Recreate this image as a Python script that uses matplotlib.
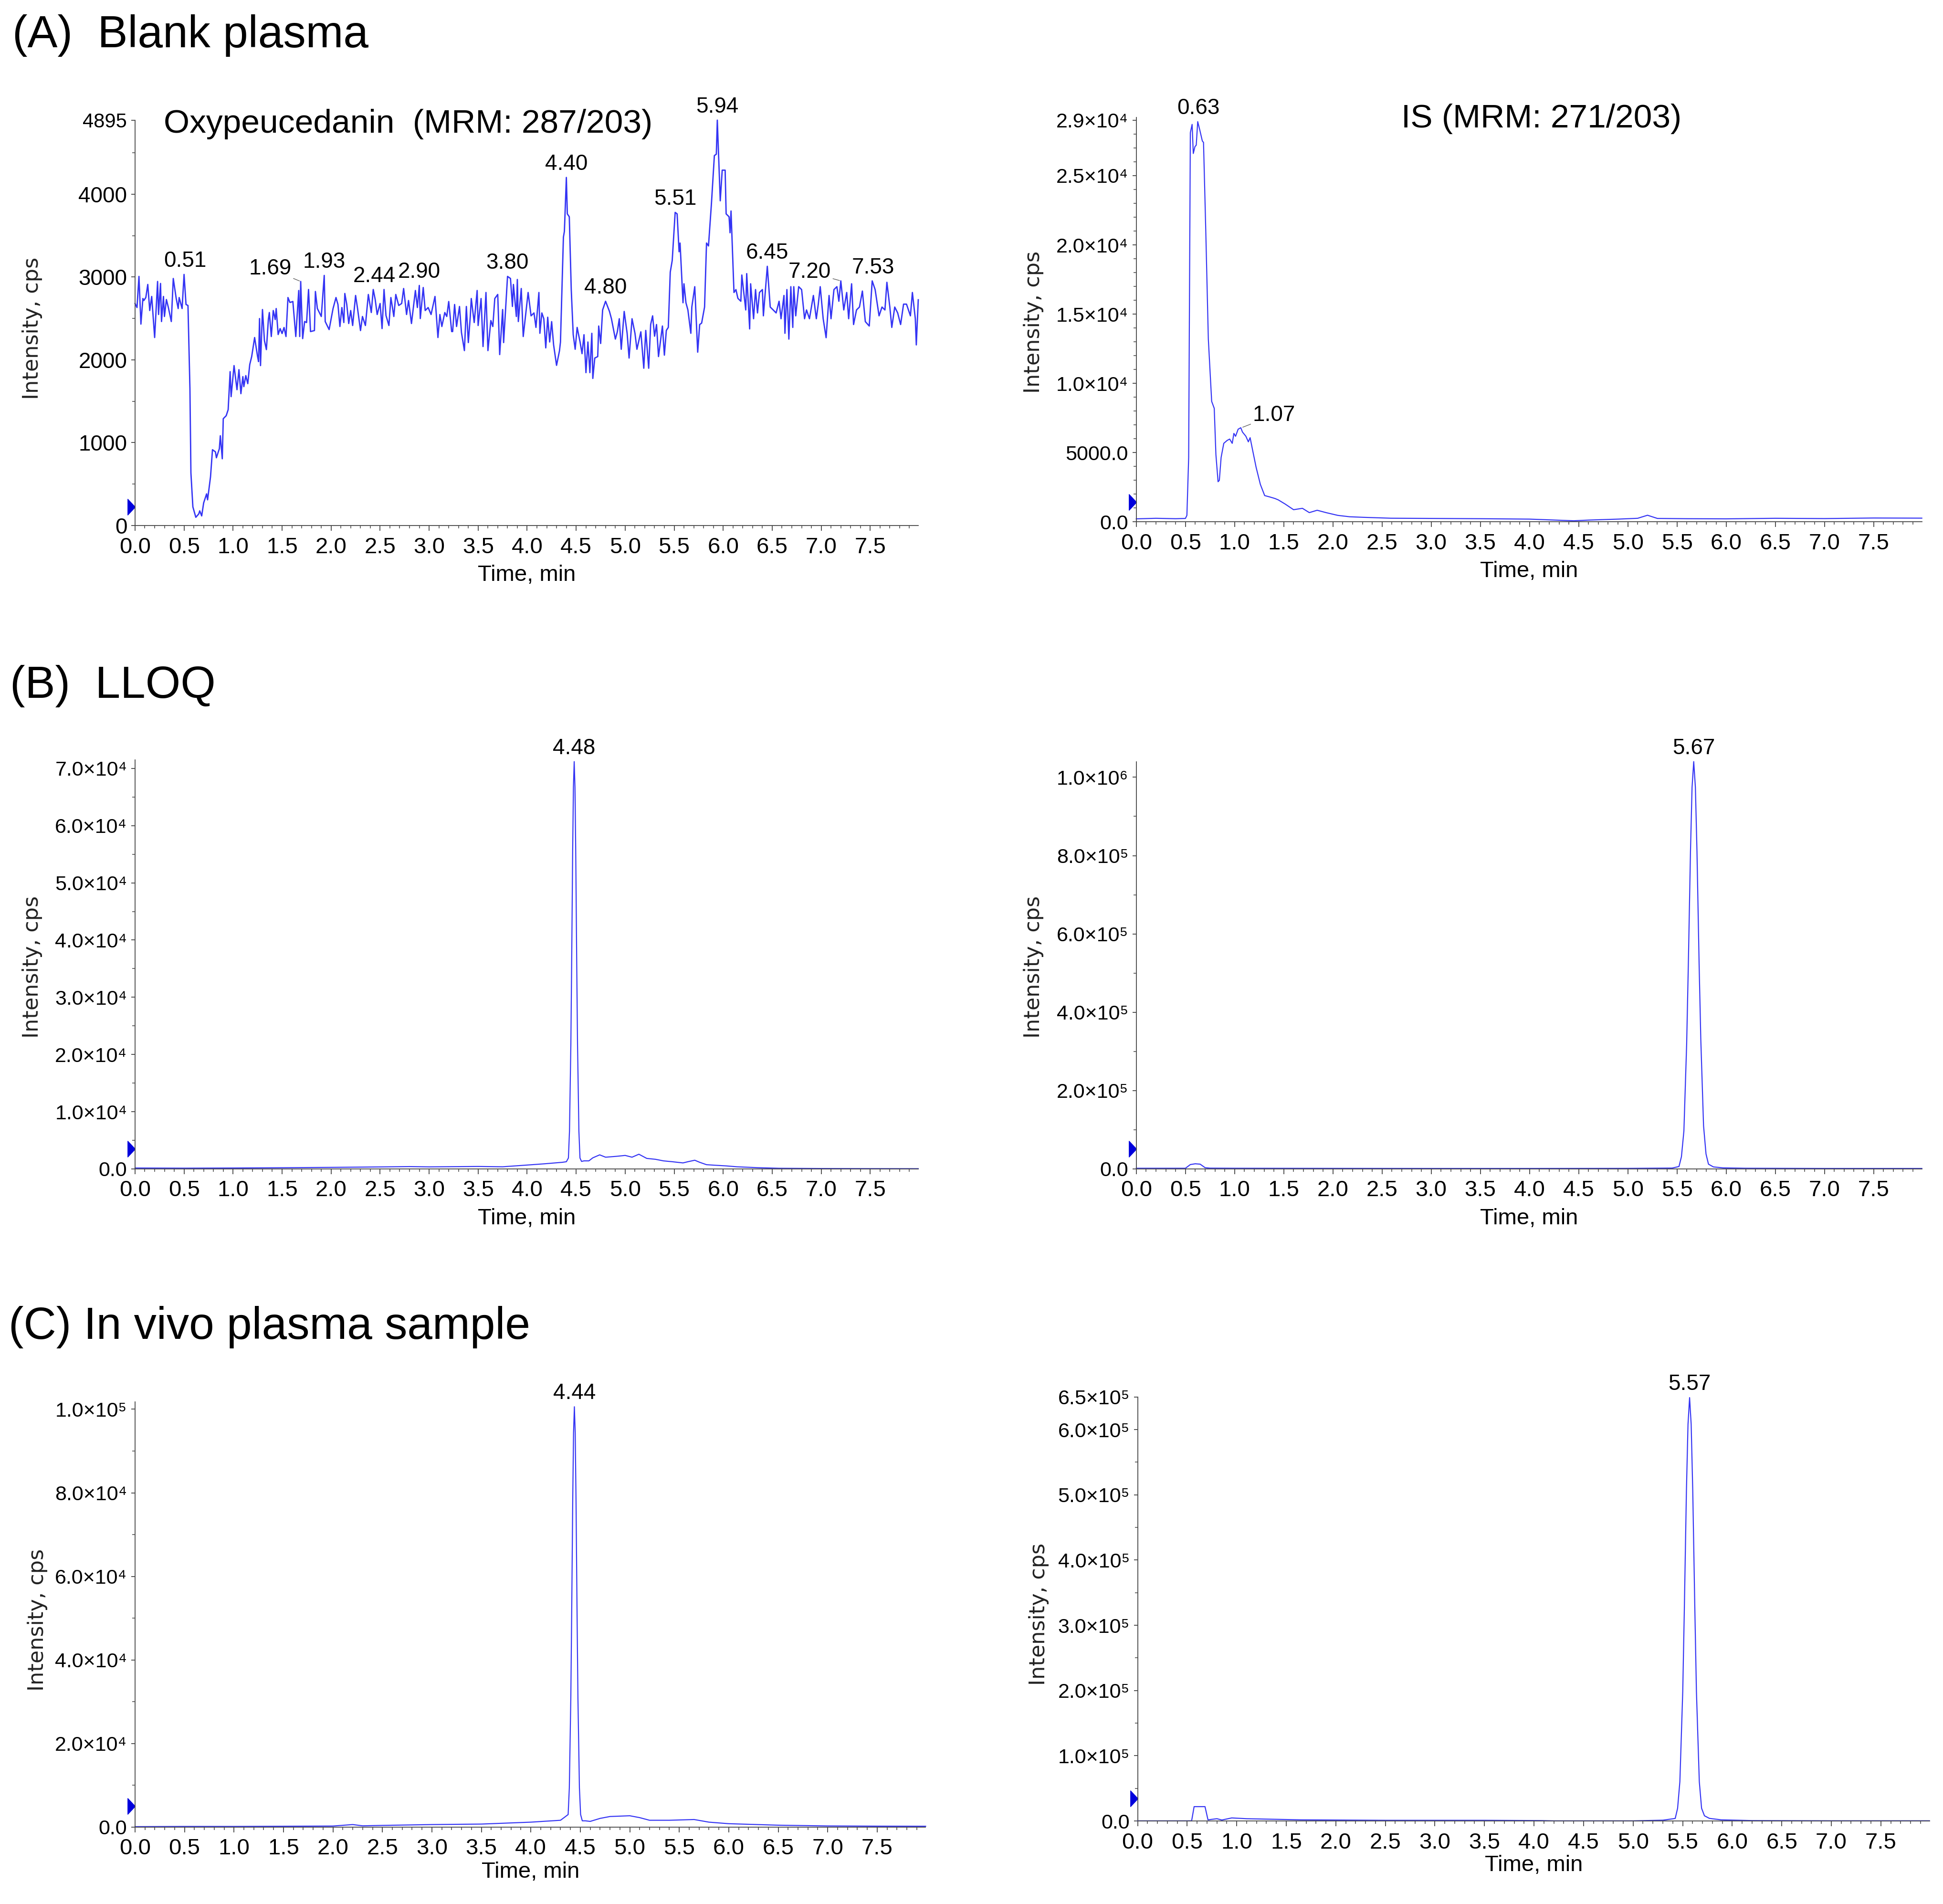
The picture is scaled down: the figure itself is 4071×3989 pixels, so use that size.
import numpy as np
import matplotlib.pyplot as plt
import matplotlib.transforms as mtransforms
from matplotlib.path import Path
from matplotlib.ticker import MultipleLocator

# ---- (A) blank plasma, analyte channel 287/203 ----
blank_ana_t = [0.00, 0.02, 0.04, 0.06, 0.08, 0.09, 0.11, 0.13, 0.15, 0.17, 0.20, 0.23, 0.24, 0.26, 0.27,
               0.29, 0.30, 0.32, 0.34, 0.37, 0.39, 0.42, 0.44, 0.45, 0.48, 0.50, 0.52, 0.54, 0.56, 0.57,
               0.59, 0.62, 0.65, 0.66, 0.68, 0.70, 0.73, 0.74, 0.77, 0.79, 0.82, 0.83, 0.86, 0.87, 0.89,
               0.90, 0.93, 0.95, 0.97, 0.98, 1.01, 1.04, 1.06, 1.08, 1.10, 1.11, 1.13, 1.15, 1.17, 1.19,
               1.22, 1.25, 1.26, 1.27, 1.28, 1.30, 1.32, 1.34, 1.36, 1.37, 1.39, 1.41, 1.43, 1.44, 1.46,
               1.48, 1.50, 1.52, 1.54, 1.56, 1.58, 1.61, 1.64, 1.67, 1.68, 1.69, 1.71, 1.73, 1.75, 1.77,
               1.79, 1.83, 1.84, 1.86, 1.90, 1.93, 1.94, 1.98,
               2.02, 2.05, 2.07, 2.09, 2.11, 2.13, 2.14, 2.16, 2.18, 2.20, 2.22, 2.25, 2.27, 2.30, 2.32,
               2.35, 2.38, 2.41, 2.43, 2.45, 2.47, 2.50, 2.52, 2.54, 2.56, 2.59, 2.61, 2.64, 2.66, 2.69,
               2.72, 2.74, 2.77, 2.79, 2.82, 2.86, 2.88, 2.90, 2.91, 2.94, 2.96, 2.99, 3.02, 3.06, 3.09,
               3.11, 3.13, 3.16, 3.18, 3.20, 3.23, 3.24, 3.26, 3.28, 3.31, 3.33, 3.36, 3.38, 3.40, 3.42,
               3.43, 3.46, 3.49, 3.50, 3.53, 3.55, 3.58, 3.60, 3.63, 3.65, 3.67, 3.70, 3.72, 3.75, 3.76,
               3.80, 3.83, 3.85, 3.86, 3.89, 3.90, 3.91, 3.94, 3.96,
               4.01, 4.04, 4.07, 4.09, 4.12, 4.13, 4.15, 4.17, 4.19, 4.21, 4.23, 4.25, 4.27, 4.30, 4.33,
               4.34, 4.37, 4.38, 4.40, 4.41, 4.43, 4.45, 4.47, 4.49, 4.51, 4.54, 4.56, 4.58, 4.60, 4.62,
               4.64, 4.66, 4.67, 4.69, 4.72, 4.73, 4.75, 4.77, 4.80, 4.84, 4.86, 4.90, 4.92, 4.94, 4.96,
               4.99, 5.02, 5.04, 5.07, 5.10, 5.12, 5.16, 5.19, 5.21, 5.24, 5.26, 5.28, 5.30, 5.32, 5.34,
               5.38, 5.40, 5.42, 5.44, 5.46, 5.48, 5.51, 5.53, 5.55, 5.56, 5.59, 5.60, 5.62, 5.64, 5.67,
               5.68, 5.71, 5.74, 5.76, 5.78, 5.81, 5.83, 5.85, 5.88, 5.91, 5.93, 5.94, 5.97, 5.99, 6.02,
               6.03, 6.06, 6.07, 6.08, 6.11,
               6.13, 6.15, 6.18, 6.19, 6.23, 6.24, 6.27, 6.28, 6.31, 6.33, 6.35, 6.37, 6.40, 6.41, 6.45,
               6.48, 6.51, 6.54, 6.57, 6.59, 6.62, 6.63, 6.65, 6.67, 6.69, 6.71, 6.72, 6.74, 6.77, 6.80,
               6.83, 6.85, 6.88, 6.92, 6.95, 6.97, 6.99, 7.02, 7.05, 7.08, 7.10, 7.13, 7.16, 7.18, 7.20,
               7.23, 7.26, 7.28, 7.31, 7.33, 7.36, 7.39, 7.42, 7.45, 7.49, 7.52, 7.55, 7.59, 7.62, 7.65,
               7.67, 7.70, 7.72, 7.75, 7.78, 7.81, 7.84, 7.87, 7.91, 7.93, 7.96, 7.97, 7.99]
blank_ana_i = [2681, 2632, 3008, 2432, 2741, 2717, 2753, 2911, 2596, 2766, 2270, 2947, 2548, 2923, 2463,
               2766, 2524, 2729, 2632, 2463, 2983, 2741, 2620, 2753, 2620, 3032, 2669, 2657, 1653, 636,
               225, 99, 140, 177, 116, 273, 382, 310, 588, 915, 890, 818, 927, 1084, 806,
               1290, 1326, 1399, 1858, 1556, 1931, 1640, 1882, 1592, 1798, 1677, 1810, 1713, 1943, 2040,
               2270, 2040, 1979, 2499, 1931, 2608, 2233, 2124, 2487, 2572, 2282, 2596, 2487, 2620, 2306,
               2378, 2318, 2391, 2282, 2753, 2693, 2705, 2282, 2838, 2282, 2947, 2257, 2463, 2451, 2850,
               2342, 2354, 2826, 2620, 2524, 3020, 2463, 2366,
               2620, 2753, 2669, 2403, 2632, 2451, 2802, 2669, 2439, 2596, 2415, 2778, 2620, 2354, 2524,
               2415, 2790, 2572, 2850, 2729, 2548, 2681, 2378, 2850, 2536, 2415, 2753, 2524, 2790, 2657,
               2681, 2862, 2548, 2717, 2439, 2838, 2632, 2899, 2499, 2874, 2596, 2632, 2548, 2766, 2270,
               2548, 2403, 2572, 2524, 2705, 2342, 2342, 2669, 2403, 2645, 2330, 2112, 2645, 2209, 2524,
               2741, 2451, 2838, 2415, 2741, 2161, 2814, 2112, 2475, 2403, 2741, 2790, 2064, 2608, 2209,
               3008, 2983, 2645, 2911, 2524, 2971, 2463, 2862, 2282,
               2814, 2532, 2567, 2392, 2814, 2321, 2567, 2497, 2145, 2515, 2216, 2462, 2181, 1934, 2110,
               2216, 3482, 3552, 4203, 3763, 3728, 2849, 2304, 2128, 2392, 2216, 2075, 2304, 1846, 2216,
               1846, 2321, 1776, 2022, 2040, 2409, 2198, 2603, 2708, 2585, 2497, 2251, 2339, 2497, 2128,
               2585, 2321, 2022, 2497, 2321, 2128, 2339, 1899, 2356, 1899, 2427, 2532, 2286, 2427, 2040,
               2409, 2057, 2356, 2392, 3060, 3200, 3781, 3763, 3306, 3411, 2690, 2919, 2690, 2603, 2321,
               2638, 2884, 2093, 2427, 2444, 2638, 3411, 3376, 3886, 4467, 4484, 4895, 3921, 4291, 4291,
               3763, 3728, 3535, 3798, 2814,
               2849, 2743, 2708, 3025, 2603, 3042, 2374, 2919, 2497, 2849, 2567, 2814, 2849, 2532, 3130,
               2638, 2603, 2567, 2708, 2497, 2778, 2321, 2849, 2251, 2884, 2392, 2884, 2532, 2884, 2849,
               2497, 2603, 2497, 2778, 2497, 2673, 2884, 2497, 2268, 2778, 2497, 2849, 2884, 2708, 2954,
               2603, 2814, 2497, 2919, 2427, 2603, 2638, 2831, 2462, 2409, 2954, 2849, 2532, 2638, 2603,
               2937, 2638, 2392, 2638, 2567, 2427, 2673, 2673, 2532, 2814, 2497, 2181, 2726]
blank_ana_peaks = ['0.51', '1.69', '1.93', '2.44', '2.90', '3.80', '4.40', '4.80',
                   '5.51', '5.94', '6.45', '7.20', '7.53']

# ---- (A) blank plasma, IS channel 271/203 ----
blank_is_t = [0.0, 0.2, 0.4, 0.5, 0.515, 0.533, 0.55, 0.568, 0.58, 0.597, 0.61, 0.625, 0.646, 0.672,
              0.684, 0.707, 0.733, 0.767, 0.793, 0.81, 0.832, 0.845, 0.863, 0.89, 0.924, 0.95, 0.976,
              0.993, 1.01, 1.036, 1.063, 1.08, 1.115, 1.14, 1.158, 1.184, 1.219, 1.262, 1.306, 1.358,
              1.41, 1.444, 1.514, 1.6, 1.69, 1.76, 1.84, 1.93, 2.05, 2.17, 2.31, 2.59, 3.0, 3.5, 4.0,
              4.3, 4.45, 4.6, 4.9, 5.1, 5.2, 5.3, 5.6, 6.0, 6.5, 7.0, 7.5, 7.99]
blank_is_i = [220, 260, 230, 250, 470, 4650, 28100, 28700, 26600, 27100, 27200, 28900, 28300, 27500,
              27400, 21000, 13200, 8700, 8200, 4860, 2900, 3000, 4650, 5670, 5880, 5980, 5670,
              6390, 6180, 6690, 6800, 6490, 6180, 5780, 6080, 5160, 3940, 2710, 1900, 1800,
              1690, 1590, 1290, 880, 980, 670, 840, 670, 470, 370, 330, 265, 250, 230, 200,
              120, 80, 130, 200, 260, 480, 250, 230, 220, 260, 240, 280, 270]
blank_is_peaks = ['0.63', '1.07']

# ---- (B) LLOQ ----
lloq_ana_t = [0.0, 0.5, 1.0, 1.5, 2.0, 2.5, 2.8, 3.0, 3.5, 3.75, 3.97, 4.18, 4.36, 4.40, 4.421,
              4.432, 4.446, 4.454, 4.4645, 4.472, 4.48, 4.488, 4.4955, 4.506, 4.514, 4.528, 4.539,
              4.555, 4.58, 4.63, 4.67, 4.74, 4.80, 4.91, 5.0, 5.07, 5.14, 5.22, 5.31, 5.39, 5.48,
              5.59, 5.64, 5.71, 5.76, 5.83, 5.92, 6.03, 6.14, 6.35, 6.57, 7.0, 7.5, 7.99]
lloq_ana_i = [150, 120, 150, 200, 260, 340, 400, 350, 420, 365, 630, 890, 1150, 1250, 1900,
              6600, 21800, 35600, 55700, 66700, 71200, 66700, 55700, 35600, 21800, 6600, 1900,
              1300, 1400, 1400, 1930, 2450, 2040, 2190, 2350, 2040, 2560, 1830, 1670, 1400, 1250,
              1040, 1250, 1510, 1150, 730, 630, 520, 365, 210, 100, 60, 40, 30]
lloq_ana_peaks = ['4.48']

lloq_is_t = [0.0, 0.5, 0.55, 0.6, 0.65, 0.7, 0.75, 1.0, 2.0, 3.0, 4.0, 5.0, 5.45, 5.52, 5.545,
             5.57, 5.598, 5.615, 5.637, 5.653, 5.67, 5.687, 5.703, 5.725, 5.742, 5.77, 5.795,
             5.82, 5.87, 5.97, 6.2, 7.0, 7.99]
lloq_is_i = [1500, 1500, 11000, 13000, 12000, 3000, 1800, 1500, 1200, 1000, 1000, 1200, 2000, 6000,
             31000, 96700, 318000, 520000, 811000, 974000, 1040000, 974000, 811000, 520000, 330000,
             110000, 38000, 12000, 5000, 2500, 1500, 1000, 1000]
lloq_is_peaks = ['5.67']

# ---- (C) in vivo plasma sample ----
vivo_ana_t = [0.0, 0.5, 1.0, 1.5, 2.0, 2.2, 2.3, 2.5, 3.0, 3.5, 4.0, 4.3, 4.377, 4.389, 4.404,
              4.4125, 4.4235, 4.4315, 4.44, 4.4485, 4.4565, 4.4675, 4.476, 4.491, 4.503, 4.52, 4.55,
              4.6, 4.7, 4.8, 5.0, 5.1, 5.2, 5.4, 5.65, 5.8, 6.0, 6.5, 7.0, 7.5, 7.99]
vivo_ana_i = [100, 150, 150, 200, 250, 600, 300, 400, 600, 720, 1180, 1630, 3000, 9400, 30800,
              50300, 78500, 94300, 100600, 94300, 78500, 50300, 30800, 9400, 3000, 1500, 1500,
              1360, 2080, 2530, 2710, 2260, 1630, 1630, 1810, 1180, 810, 450, 270, 220, 200]
vivo_ana_peaks = ['4.44']

vivo_is_t = [0.0, 0.5, 0.545, 0.57, 0.68, 0.71, 0.8, 0.85, 0.95, 1.1, 1.65, 2.5, 3.5, 4.07, 4.2,
             5.0, 5.3, 5.425, 5.449, 5.472, 5.501, 5.517, 5.538, 5.554, 5.57, 5.586, 5.602, 5.623,
             5.639, 5.668, 5.691, 5.72, 5.77, 5.89, 6.2, 7.0, 7.99]
vivo_is_i = [200, 200, 300, 22000, 22000, 1750, 3500, 1500, 4700, 3500, 1750, 1000, 1000, 600, 200,
             200, 1200, 3900, 19500, 60400, 198600, 324500, 506000, 608000, 649000, 608000, 506000,
             324500, 198600, 60400, 19500, 8000, 4000, 1750, 600, 300, 300]
vivo_is_peaks = ['5.57']

x_ticks = [0.0, 0.5, 1.0, 1.5, 2.0, 2.5, 3.0, 3.5, 4.0, 4.5, 5.0, 5.5, 6.0, 6.5, 7.0, 7.5]
x_tick_labels = ['%.1f' % x for x in x_ticks]

yt_blank_ana = [0, 1000, 2000, 3000, 4000, 4895]
yl_blank_ana = ['0', '1000', '2000', '3000', '4000', '4895']
yt_blank_is = [0, 5000, 10000, 15000, 20000, 25000, 29000]
yl_blank_is = ['0.0', '5000.0', '1.0×10⁴', '1.5×10⁴', '2.0×10⁴', '2.5×10⁴', '2.9×10⁴']
yt_lloq_ana = [0, 1e4, 2e4, 3e4, 4e4, 5e4, 6e4, 7e4]
yl_lloq_ana = ['0.0', '1.0×10⁴', '2.0×10⁴', '3.0×10⁴', '4.0×10⁴', '5.0×10⁴', '6.0×10⁴', '7.0×10⁴']
yt_lloq_is = [0, 2e5, 4e5, 6e5, 8e5, 1e6]
yl_lloq_is = ['0.0', '2.0×10⁵', '4.0×10⁵', '6.0×10⁵', '8.0×10⁵', '1.0×10⁶']
yt_vivo_ana = [0, 2e4, 4e4, 6e4, 8e4, 1e5]
yl_vivo_ana = ['0.0', '2.0×10⁴', '4.0×10⁴', '6.0×10⁴', '8.0×10⁴', '1.0×10⁵']
yt_vivo_is = [0, 1e5, 2e5, 3e5, 4e5, 5e5, 6e5, 6.5e5]
yl_vivo_is = ['0.0', '1.0×10⁵', '2.0×10⁵', '3.0×10⁵', '4.0×10⁵', '5.0×10⁵', '6.0×10⁵', '6.5×10⁵']

LINE = '#3434f4'
AXC = '#454545'
REG = ['Liberation Sans', 'DejaVu Sans']

fig = plt.figure(figsize=(40.71, 39.89), dpi=100)

# right-pointing baseline marker, tip at the origin
tri = Path([(-0.94, -1.0), (0.0, 0.0), (-0.94, 1.0), (-0.94, -1.0)],
           [Path.MOVETO, Path.LINETO, Path.LINETO, Path.CLOSEPOLY])


def panel(rect, t, v, ymax, yt, yl, yminor, mark_y, peaks, lw=1.6, leaders=None):
    leaders = leaders or {}
    ax = fig.add_axes(rect)
    ax.plot(t, v, color=LINE, lw=lw, clip_on=False)
    ax.set_xlim(0, 7.99)
    ax.set_ylim(0, ymax)
    for s in ['top', 'right']:
        ax.spines[s].set_visible(False)
    for s in ['left', 'bottom']:
        ax.spines[s].set_color(AXC)
        ax.spines[s].set_linewidth(1.3)
    ax.set_xticks(x_ticks)
    ax.set_xticklabels(x_tick_labels, family=REG, fontsize=34)
    ax.xaxis.set_minor_locator(MultipleLocator(0.1))
    ax.set_yticks(yt)
    ax.set_yticklabels(yl, family=REG, fontsize=31)
    ax.yaxis.set_minor_locator(MultipleLocator(yminor))
    ax.tick_params(axis='x', which='major', length=8, width=1.3, color=AXC, pad=9)
    ax.tick_params(axis='y', which='major', length=6, width=1.3, color=AXC, pad=6)
    ax.tick_params(which='minor', length=4, width=1.1, color=AXC)
    trans = mtransforms.blended_transform_factory(ax.transAxes, ax.transData)
    ax.plot([0], [mark_y], marker=tri, ms=24, color='#0000dc', transform=trans, clip_on=False)
    ta = np.array(t)
    va = np.array(v)
    for lab in peaks:
        tp = float(lab)
        near = np.abs(ta - tp) <= 0.02
        yp = va[near].max()
        if lab in leaders:
            dx, dy = leaders[lab]
            ax.annotate(lab, xy=(tp, yp), xytext=(dx, dy), textcoords='offset points',
                        ha='center', va='center', fontsize=33, family=REG,
                        annotation_clip=False,
                        arrowprops=dict(arrowstyle='-', color='#606060', lw=1.0,
                                        shrinkA=1, shrinkB=2))
        else:
            ax.annotate(lab, xy=(tp, yp), xytext=(0, 20), textcoords='offset points',
                        ha='center', va='center', fontsize=33, family=REG,
                        annotation_clip=False)
    return ax


ax1 = panel([0.0695, 0.7240, 0.4031, 0.2129], blank_ana_t, blank_ana_i, 4895,
            yt_blank_ana, yl_blank_ana, 500, 225, blank_ana_peaks, lw=2.0,
            leaders={'1.69': (-46, 19), '7.20': (-47, 13)})
for lab in ax1.get_yticklabels():
    lab.set_fontsize(33)
ax1.get_yticklabels()[-1].set_fontsize(30)
ax2 = panel([0.5848, 0.7259, 0.4043, 0.2124], blank_is_t, blank_is_i, 29200,
            yt_blank_is, yl_blank_is, 1000, 1430, blank_is_peaks,
            leaders={'1.07': (49, 19)})
ax3 = panel([0.0695, 0.3861, 0.4031, 0.2148], lloq_ana_t, lloq_ana_i, 71500,
            yt_lloq_ana, yl_lloq_ana, 5000, 3470, lloq_ana_peaks)
ax4 = panel([0.5848, 0.3861, 0.4043, 0.2139], lloq_is_t, lloq_is_i, 1.04e6,
            yt_lloq_is, yl_lloq_is, 1e5, 50600, lloq_is_peaks)
ax5 = panel([0.0695, 0.0404, 0.4069, 0.2234], vivo_ana_t, vivo_ana_i, 1.018e5,
            yt_vivo_ana, yl_vivo_ana, 1e4, 5040, vivo_ana_peaks)
ax6 = panel([0.5855, 0.0436, 0.4075, 0.2227], vivo_is_t, vivo_is_i, 6.5e5,
            yt_vivo_is, yl_vivo_is, 5e4, 34400, vivo_is_peaks)

# section titles
fig.text(0.0064, 0.9753, '(A)  Blank plasma', fontsize=68, family=REG, va='baseline')
fig.text(0.0051, 0.6335, '(B)  LLOQ', fontsize=68, family=REG, va='baseline')
fig.text(0.0045, 0.2969, '(C) In vivo plasma sample', fontsize=68, family=REG, va='baseline')

fig.text(0.0842, 0.9303, 'Oxypeucedanin  (MRM: 287/203)', fontsize=50, family=REG, va='baseline')
fig.text(0.7213, 0.9330, 'IS (MRM: 271/203)', fontsize=50, family=REG, va='baseline')

for x, y in [(0.0166, 0.8275), (0.5320, 0.8307), (0.0166, 0.4922),
             (0.5320, 0.4922), (0.0192, 0.1491), (0.5347, 0.1523)]:
    fig.text(x, y, 'Intensity, cps', rotation=90, fontsize=32, family=['DejaVu Sans'],
             ha='center', va='center', color='#222222')

for x, y in [(0.2710, 0.6979), (0.7870, 0.6999), (0.2710, 0.3600),
             (0.7870, 0.3600), (0.2730, 0.0169), (0.7895, 0.0202)]:
    fig.text(x, y, 'Time, min', fontsize=34, family=REG, ha='center', va='center')

fig.savefig('out.png', dpi=100)
